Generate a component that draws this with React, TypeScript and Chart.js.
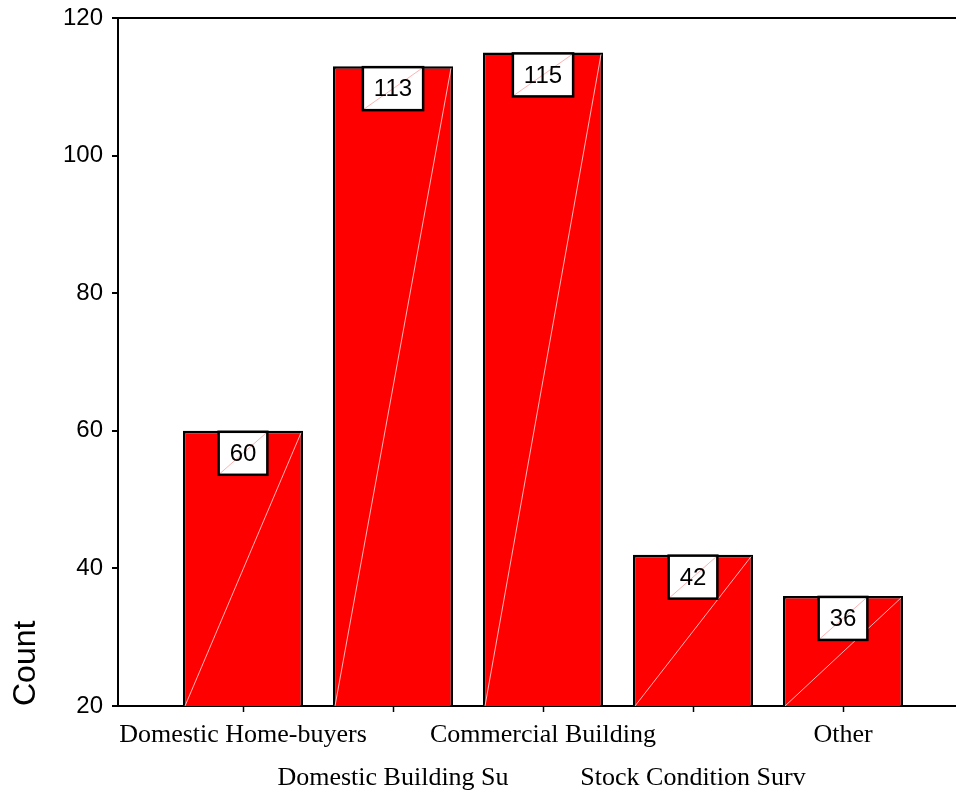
import React, { useEffect, useRef } from 'react';
import { Chart, registerables } from 'chart.js';

Chart.register(...registerables);

const categories = [
  'Domestic Home-buyers',
  'Domestic Building Su',
  'Commercial Building',
  'Stock Condition Surv',
  'Other',
];
const counts = [60, 113, 115, 42, 36];
const yMin = 20;
const yMax = 120;
const yStep = 20;
const yTitle = 'Count';

const barLabelPlugin = {
  id: 'barLabels',
  afterDatasetsDraw(chart: any) {
    const ctx = chart.ctx as CanvasRenderingContext2D;
    const area = chart.chartArea;
    const meta = chart.getDatasetMeta(0);
    ctx.save();
    ctx.beginPath();
    ctx.rect(area.left, area.top, area.right - area.left, area.bottom - area.top);
    ctx.clip();
    meta.data.forEach((bar: any, i: number) => {
      const { x, y, width } = bar.getProps(['x', 'y', 'width'], true);
      const left = x - width / 2;
      const right = x + width / 2;
      const bottom = area.bottom;
      // faint diagonal across the bar
      ctx.strokeStyle = 'rgba(255,200,200,0.9)';
      ctx.lineWidth = 1;
      ctx.beginPath();
      ctx.moveTo(left + 2, bottom);
      ctx.lineTo(right - 2, y + 2);
      ctx.stroke();
      // label box
      const text = String(counts[i]);
      ctx.font = '24px "Liberation Sans", Arial, sans-serif';
      const tw = ctx.measureText(text).width;
      const bw = tw + 22;
      const bh = 43;
      const bx = x - bw / 2;
      const by = y + 1;
      ctx.fillStyle = '#ffffff';
      ctx.fillRect(bx, by, bw, bh);
      ctx.strokeStyle = 'rgba(255,170,170,0.9)';
      ctx.lineWidth = 1;
      ctx.beginPath();
      ctx.moveTo(bx + 1, by + bh - 1);
      ctx.lineTo(bx + bw - 1, by + 1);
      ctx.stroke();
      ctx.strokeStyle = '#000000';
      ctx.lineWidth = 2.5;
      ctx.strokeRect(bx, by, bw, bh);
      ctx.fillStyle = '#000000';
      ctx.textAlign = 'center';
      ctx.textBaseline = 'middle';
      ctx.fillText(text, x, by + bh / 2 + 1);
    });
    ctx.restore();
  },
};

export default function App() {
  const ref = useRef<HTMLCanvasElement | null>(null);

  useEffect(() => {
    document.body.style.margin = '0';
    const canvas = ref.current;
    if (!canvas) return;
    const chart = new Chart(canvas, {
      type: 'bar',
      data: {
        datasets: [
          {
            data: counts.map((v, i) => ({ x: i + 1, y: v })),
            backgroundColor: '#ff0000',
            borderColor: '#000000',
            borderWidth: 2.5,
            barPercentage: 0.8,
            categoryPercentage: 1,
          },
        ],
      },
      options: {
        animation: false,
        responsive: false,
        maintainAspectRatio: false,
        layout: { padding: { top: 18, left: 0, right: 0, bottom: 0 } },
        plugins: {
          legend: { display: false },
          tooltip: { enabled: false },
        },
        scales: {
          x: {
            type: 'linear',
            offset: false,
            min: 1 - 125 / 150,
            max: 5 + 113 / 150,
            afterBuildTicks: (scale: any) => {
              scale.ticks = categories.map((_, i) => ({ value: i + 1 }));
            },
            afterFit: (scale: any) => {
              scale.height = 90;
            },
            border: { display: true, color: '#000000', width: 2 },
            grid: {
              display: true,
              offset: false,
              drawOnChartArea: false,
              tickLength: 6,
              tickColor: '#000000',
              tickWidth: 1.5,
            },
            ticks: {
              autoSkip: false,
              maxRotation: 0,
              minRotation: 0,
              padding: 2,
              color: '#000000',
              font: { family: '"Liberation Serif", "Times New Roman", serif', size: 26, lineHeight: 1.654 },
              callback: (value: any) => {
                const i = Math.round(Number(value)) - 1;
                const label = categories[i] ?? '';
                return i % 2 === 0 ? [label] : ['', label];
              },
            },
          },
          y: {
            min: yMin,
            max: yMax,
            afterFit: (scale: any) => {
              scale.width = 118;
            },
            border: { display: true, color: '#000000', width: 2 },
            grid: {
              display: true,
              drawOnChartArea: true,
              color: (c: any) => (c.tick && c.tick.value === yMax ? '#000000' : 'rgba(0,0,0,0)'),
              lineWidth: 2,
              tickLength: 6,
              tickColor: '#000000',
              tickWidth: 2,
            },
            ticks: {
              stepSize: yStep,
              padding: 9,
              color: '#000000',
              font: { family: '"Liberation Sans", Arial, sans-serif', size: 24, lineHeight: 0.6 },
            },
            title: {
              display: true,
              text: yTitle,
              align: 'start',
              color: '#000000',
              font: { family: '"Liberation Sans", Arial, sans-serif', size: 32 },
              padding: { top: 7, bottom: 0 },
            },
          },
        },
      },
      plugins: [barLabelPlugin],
    } as any);
    return () => chart.destroy();
  }, []);

  return <canvas ref={ref} width={956} height={796} style={{ display: 'block' }} />;
}
